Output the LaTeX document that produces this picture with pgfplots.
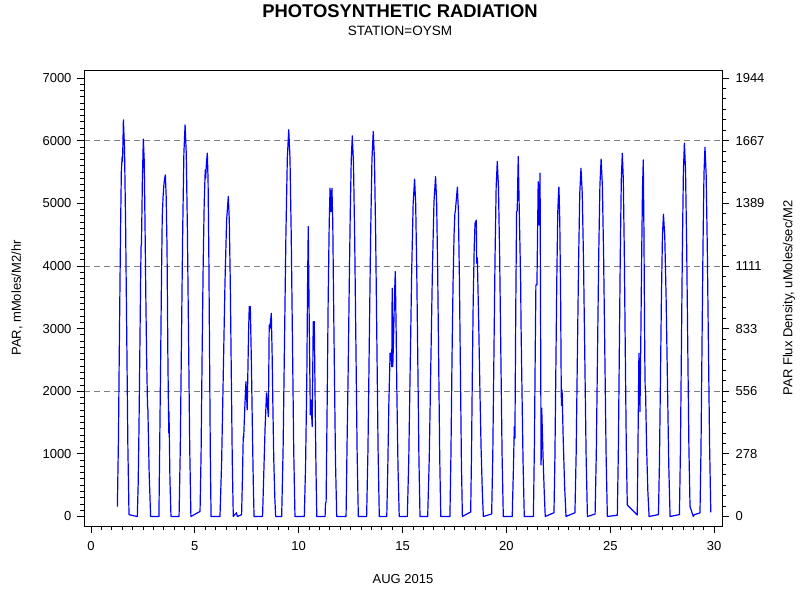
\documentclass[border=0pt]{standalone}
\usepackage{fontspec}
\setmainfont{Liberation Sans}
\usepackage{pgfplots}
\pgfplotsset{compat=1.18}
\begin{document}
\begin{tikzpicture}
\useasboundingbox (0,0) rectangle (800pt,600pt);
\node[font=\bfseries\fontsize{18.4}{20}\selectfont] at (400pt,589pt) {PHOTOSYNTHETIC RADIATION};
\node[font=\fontsize{13.5}{15}\selectfont] at (400pt,569pt) {STATION=OYSM};
\begin{axis}[
  at={(84pt,74pt)}, anchor=south west,
  width=638pt, height=456pt, scale only axis,
  xmin=-0.337, xmax=30.38, ymin=-152, ymax=7128,
  tick pos=left, tick align=outside,
  xtick={0,5,10,15,20,25,30},
  xticklabels={0,5,10,15,20,25,30},
  minor xtick={0.5,1,...,29.5},
  ytick={0,1000,2000,3000,4000,5000,6000,7000},
  yticklabels={0,1000,2000,3000,4000,5000,6000,7000},
  minor ytick={100,200,...,6900},
  major tick length=7pt, minor tick length=4pt,
  tick style={black, line width=0.8pt},
  axis line style={black, line width=0.9pt},
  tick label style={font=\fontsize{13}{15}\selectfont},
  yticklabel style={xshift=-2pt},
  xticklabel style={yshift=-5pt},
  label style={font=\fontsize{13}{15}\selectfont},
  xlabel={AUG 2015},
  xlabel style={at={(axis description cs:0.5,-0.1162)}, anchor=center},
  ylabel={PAR, mMoles/M2/hr},
  ylabel style={at={(axis description cs:-0.105,0.5)}, anchor=center},
  clip=true,
]
\addplot[gray, line width=0.8pt, dash pattern=on 6pt off 4pt, forget plot] coordinates {(-0.337,2000) (30.38,2000)};
\addplot[gray, line width=0.8pt, dash pattern=on 6pt off 4pt, forget plot] coordinates {(-0.337,4000) (30.38,4000)};
\addplot[gray, line width=0.8pt, dash pattern=on 6pt off 4pt, forget plot] coordinates {(-0.337,6000) (30.38,6000)};
\addplot[color={rgb,255:red,0;green,0;blue,255}, line width=1.2pt, line join=round] coordinates {
(1.27,157) (1.32,1200) (1.37,2900) (1.42,4500) (1.46,5500) (1.50,5746) (1.52,5666) (1.56,6332) (1.614,5870) (1.668,4610) (1.722,2856) (1.776,1090) (1.83,30) (2.00,15)
(2.23,0) (2.27,500) (2.31,1400) (2.35,2600) (2.39,3800) (2.41,4309) (2.43,4350) (2.475,5400) (2.52,6024) (2.56,5700) (2.60,4700) (2.64,3500) (2.68,2500) (2.72,1780) (2.74,1700) (2.80,700) (2.87,0)
(3.27,0) (3.31,1200) (3.35,2392) (3.39,3700) (3.43,4788) (3.47,5100) (3.51,5300) (3.55,5400) (3.58,5454) (3.62,5100) (3.66,4300) (3.70,2600) (3.73,1700) (3.745,1330) (3.755,1674) (3.80,600) (3.85,0)
(4.24,0) (4.298,1075) (4.356,2820) (4.414,4550) (4.472,5800) (4.53,6252) (4.586,5800) (4.642,4550) (4.698,2820) (4.754,1075) (4.81,0)
(5.25,80) (5.30,1000) (5.35,2600) (5.40,4000) (5.45,5000) (5.50,5534) (5.52,5401) (5.56,5650) (5.60,5800) (5.636,5380) (5.672,4220) (5.708,2620) (5.744,1000) (5.78,0)
(6.21,0) (6.29,880) (6.37,2300) (6.45,3720) (6.53,4735) (6.61,5108) (6.658,4735) (6.706,3720) (6.754,2300) (6.802,880) (6.85,0) (7.00,60) (7.05,0)
(7.25,30) (7.29,600) (7.33,1275) (7.35,1250) (7.40,1700) (7.46,2153) (7.52,1701) (7.59,3000) (7.62,3351) (7.67,3351) (7.72,2500) (7.77,1400) (7.81,600) (7.85,0)
(8.26,0) (8.32,700) (8.38,1400) (8.45,1972) (8.54,1594) (8.58,3058) (8.61,2990) (8.68,3245) (8.72,2600) (8.76,1700) (8.80,900) (8.85,300) (8.89,0)
(9.18,0) (9.248,1060) (9.316,2785) (9.384,4495) (9.452,5723) (9.52,6174) (9.58,5723) (9.64,4495) (9.70,2785) (9.76,1060) (9.82,0)
(10.27,0) (10.33,800) (10.39,2200) (10.43,3800) (10.46,4628) (10.51,3000) (10.56,1621) (10.59,1861) (10.65,1434) (10.70,3111) (10.75,3111) (10.79,1900) (10.83,800) (10.87,0)
(11.27,0) (11.29,215) (11.32,230) (11.37,1800) (11.42,3500) (11.47,4700) (11.51,5241) (11.55,4868) (11.60,5241) (11.64,4700) (11.67,3730) (11.72,2300) (11.77,900) (11.83,0)
(12.28,0) (12.33,1200) (12.38,2290) (12.43,3600) (12.48,4800) (12.53,5700) (12.58,6077) (12.638,5630) (12.696,4420) (12.754,2740) (12.812,1045) (12.87,0)
(13.27,0) (13.334,1057) (13.398,2772) (13.462,4474) (13.526,5697) (13.59,6146) (13.648,5697) (13.706,4474) (13.764,2772) (13.822,1057) (13.88,0)
(14.24,0) (14.29,800) (14.34,1800) (14.40,2606) (14.44,2606) (14.48,2392) (14.50,3644) (14.53,2392) (14.57,2900) (14.61,3500) (14.65,3910) (14.69,3000) (14.73,1900) (14.78,800) (14.84,0)
(15.23,0) (15.30,926) (15.37,2429) (15.44,3920) (15.51,4992) (15.58,5385) (15.632,4992) (15.684,3920) (15.736,2429) (15.788,926) (15.84,0)
(16.21,0) (16.286,933) (16.362,2448) (16.438,3951) (16.514,5031) (16.59,5427) (16.64,5031) (16.69,3951) (16.74,2448) (16.79,933) (16.84,0)
(17.28,0) (17.33,1000) (17.38,2500) (17.43,3700) (17.48,4500) (17.52,4842) (17.54,4870) (17.64,5258) (17.688,4874) (17.736,3828) (17.784,2371) (17.832,904) (17.88,0)
(18.28,72) (18.32,1000) (18.36,2300) (18.40,3400) (18.45,4300) (18.49,4682) (18.55,4730) (18.57,4044) (18.60,4130) (18.66,3200) (18.72,2100) (18.78,1100) (18.84,400) (18.89,0)
(19.29,40) (19.344,975) (19.398,2555) (19.452,4125) (19.506,5252) (19.56,5666) (19.618,5252) (19.676,4125) (19.734,2555) (19.792,975) (19.85,0)
(20.28,0) (20.34,800) (20.38,1434) (20.41,1250) (20.45,3300) (20.49,4868) (20.52,4880) (20.57,5746) (20.63,4700) (20.69,3670) (20.70,3165) (20.75,2000) (20.80,900) (20.86,0)
(21.30,0) (21.35,1200) (21.39,2700) (21.42,3697) (21.47,3697) (21.53,5347) (21.57,4655) (21.62,5481) (21.67,822) (21.70,1728) (21.76,1000) (21.82,400) (21.87,0)
(22.29,60) (22.336,950) (22.382,2400) (22.428,3830) (22.474,4870) (22.52,5241) (22.53,5258) (22.57,4700) (22.61,3500) (22.64,2020) (22.65,1775) (22.68,2020) (22.73,1300) (22.80,500) (22.87,0)
(23.30,60) (23.358,1000) (23.416,2540) (23.474,4050) (23.532,5160) (23.59,5561) (23.652,5155) (23.714,4048) (23.776,2508) (23.838,956) (23.90,0)
(24.27,40) (24.328,1015) (24.386,2595) (24.444,4165) (24.502,5290) (24.56,5704) (24.62,5288) (24.68,4153) (24.74,2573) (24.80,981) (24.86,0)
(25.34,20) (25.388,1015) (25.436,2630) (25.484,4230) (25.532,5380) (25.58,5800) (25.628,5380) (25.676,4220) (25.724,2620) (25.772,1100) (25.82,184)
(26.30,24) (26.38,2606) (26.43,1674) (26.47,2800) (26.51,4100) (26.55,5200) (26.59,5693) (26.62,4600) (26.66,2600) (26.68,2073) (26.70,2000) (26.75,1100) (26.81,400) (26.87,0)
(27.32,30) (27.368,855) (27.416,2190) (27.464,3520) (27.512,4475) (27.56,4826) (27.624,4474) (27.688,3513) (27.752,2177) (27.816,830) (27.88,0)
(28.33,30) (28.378,1050) (28.426,2700) (28.474,4340) (28.522,5525) (28.57,5960) (28.624,5525) (28.678,4340) (28.732,2700) (28.786,1100) (28.84,157) (29.00,0) (29.05,30) (29.27,51)
(29.32,60) (29.368,1060) (29.416,2700) (29.464,4290) (29.512,5470) (29.56,5896) (29.616,5466) (29.672,4292) (29.728,2660) (29.784,1100) (29.84,67)
};
\end{axis}
\begin{axis}[
  at={(84pt,74pt)}, anchor=south west,
  width=638pt, height=456pt, scale only axis,
  xmin=-0.337, xmax=30.38, ymin=-42.222, ymax=1980,
  xtick=\empty, ytick pos=right, tick align=outside,
  ytick={0,277.778,555.556,833.333,1111.111,1388.889,1666.667,1944.444},
  yticklabels={0,278,556,833,1111,1389,1667,1944},
  minor ytick={46.296,92.593,...,1944},
  major tick length=7pt, minor tick length=4pt,
  tick style={black, line width=0.8pt},
  axis line style={black, line width=0.9pt},
  tick label style={font=\fontsize{13}{15}\selectfont},
  yticklabel style={xshift=3pt},
  label style={font=\fontsize{13}{15}\selectfont},
  ylabel={PAR Flux Density, uMoles/sec/M2},
  ylabel style={at={(axis description cs:1.105,0.5)}, anchor=center, rotate=0},
]
\end{axis}
\end{tikzpicture}
\end{document}
